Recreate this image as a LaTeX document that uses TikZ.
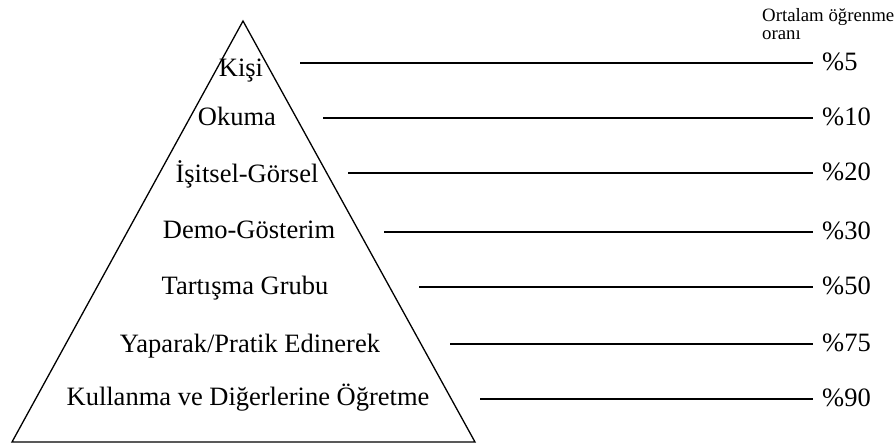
\documentclass[tikz,border=0pt]{standalone}
\usepackage{fontspec}
\setmainfont{Liberation Serif}
\begin{document}
\begin{tikzpicture}[x=1pt,y=-1pt,
  lbl/.style={anchor=base,inner sep=0pt,font=\fontsize{26.5}{30}\selectfont},
  pct/.style={anchor=base west,inner sep=0pt,font=\fontsize{26.5}{30}\selectfont},
  hdr/.style={anchor=base west,inner sep=0pt,font=\fontsize{18.8}{18}\selectfont},
  rule/.style={line width=1.6pt},
  tri/.style={line width=1.3pt,line join=miter}]
\useasboundingbox (0,0) rectangle (896,447);
% pyramid
\coordinate (apex) at (243,21);
\coordinate (bl) at (12,442);
\coordinate (br) at (475,442);
\draw[tri] (apex) -- (br) -- (bl) -- cycle;
% header
\node[hdr] (h1) at (762,21) {Ortalam öğrenme};
\node[hdr] (h2) at (762,39) {oranı};
% labels
\node[lbl] (k1) at (241,76) {Kişi};
\node[lbl] (k2) at (237,125) {Okuma};
\node[lbl] (k3) at (247,182) {İşitsel-Görsel};
\node[lbl] (k4) at (249,238) {Demo-Gösterim};
\node[lbl] (k5) at (245,294) {Tartışma Grubu};
\node[lbl] (k6) at (250,352) {Yaparak/Pratik Edinerek};
\node[lbl] (k7) at (248,405) {Kullanma ve Diğerlerine Öğretme};
% percentages
\node[pct] (p1) at (822,70) {\%5};
\node[pct] (p2) at (822,125) {\%10};
\node[pct] (p3) at (822,180) {\%20};
\node[pct] (p4) at (822,239) {\%30};
\node[pct] (p5) at (822,294) {\%50};
\node[pct] (p6) at (822,351) {\%75};
\node[pct] (p7) at (822,406) {\%90};
% rules
\coordinate (s1) at (300,63);  \coordinate (e1) at (813,63);
\coordinate (s2) at (323,118); \coordinate (e2) at (813,118);
\coordinate (s3) at (348,173); \coordinate (e3) at (813,173);
\coordinate (s4) at (384,232); \coordinate (e4) at (813,232);
\coordinate (s5) at (419,287); \coordinate (e5) at (813,287);
\coordinate (s6) at (450,344); \coordinate (e6) at (813,344);
\coordinate (s7) at (480,399); \coordinate (e7) at (813,399);
\foreach \i in {1,...,7} \draw[rule] (s\i) -- (e\i);
\end{tikzpicture}
\end{document}
